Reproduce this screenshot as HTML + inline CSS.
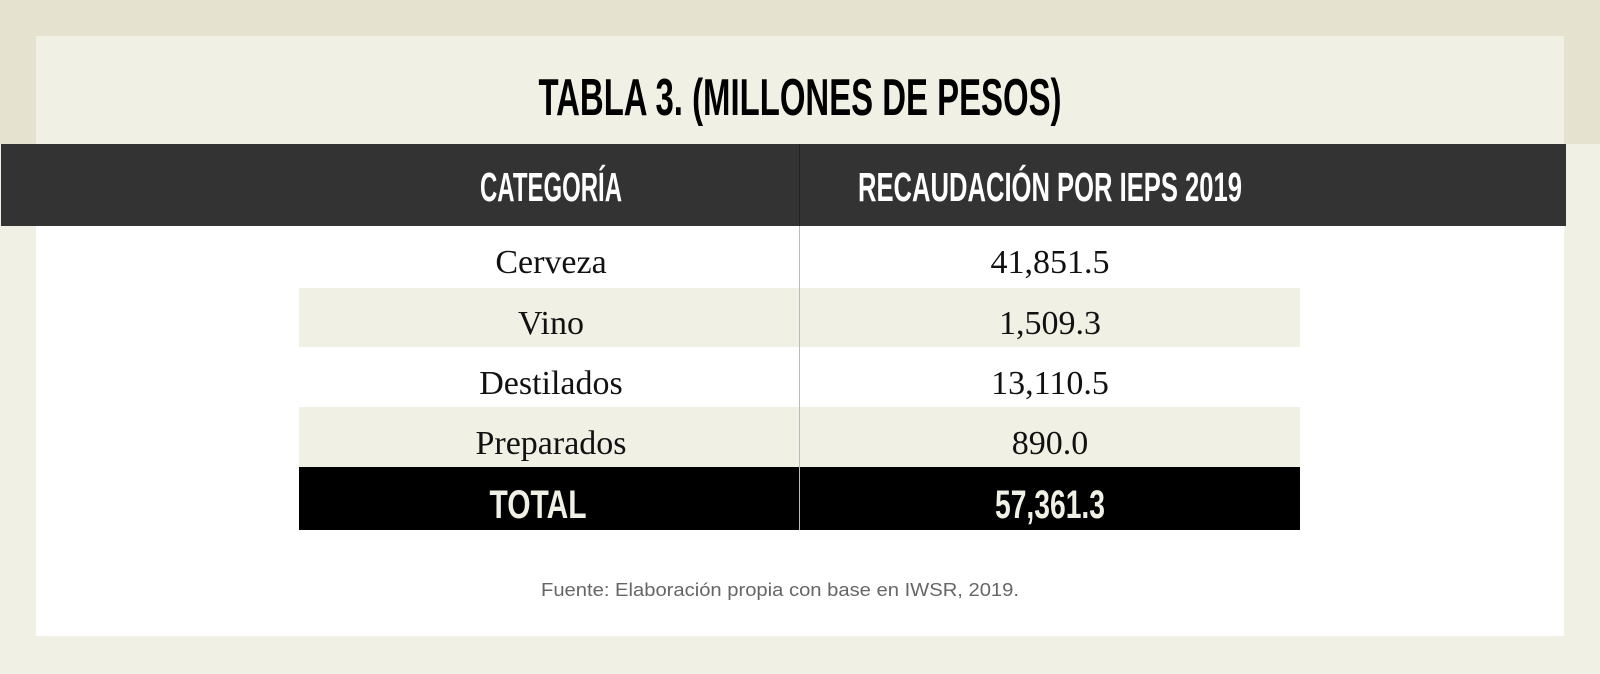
<!DOCTYPE html>
<html><head><meta charset="utf-8"><style>
html,body{margin:0;padding:0;width:1600px;height:674px;overflow:hidden;background:#f0f0e4}
svg{display:block}
.h{font-family:"Liberation Sans Narrow","Liberation Sans",sans-serif;font-weight:bold}
.s{font-family:"Liberation Serif",serif;font-size:34px;fill:#111}
</style></head><body>
<svg width="1600" height="674" viewBox="0 0 1600 674">
<rect x="0" y="0" width="1600" height="144" fill="#e5e3cf"/>
<rect x="36" y="36" width="1528" height="600" fill="#ffffff"/>
<rect x="36" y="36" width="1528" height="108" fill="#f0f0e4"/>
<text class="h" x="800" y="115" font-size="52" text-anchor="middle" textLength="523" lengthAdjust="spacingAndGlyphs" fill="#000">TABLA 3. (MILLONES DE PESOS)</text>
<rect x="1" y="144" width="1565" height="82" fill="#333333"/>
<text class="h" x="551" y="201" font-size="41" text-anchor="middle" textLength="142" lengthAdjust="spacingAndGlyphs" fill="#fff">CATEGORÍA</text>
<text class="h" x="1050" y="201" font-size="41" text-anchor="middle" textLength="384" lengthAdjust="spacingAndGlyphs" fill="#fff">RECAUDACIÓN POR IEPS 2019</text>
<rect x="299" y="288" width="1001" height="59" fill="#f0f0e4"/>
<rect x="299" y="407" width="1001" height="60" fill="#f0f0e4"/>
<rect x="299" y="467" width="1001" height="63" fill="#000"/>
<line x1="799.5" y1="144" x2="799.5" y2="226" stroke="#222"/>
<line x1="799.5" y1="226" x2="799.5" y2="530" stroke="#bbb"/>
<text class="s" x="551" y="273" text-anchor="middle">Cerveza</text>
<text class="s" x="1050" y="273" text-anchor="middle">41,851.5</text>
<text class="s" x="551" y="334" text-anchor="middle">Vino</text>
<text class="s" x="1050" y="334" text-anchor="middle">1,509.3</text>
<text class="s" x="551" y="394" text-anchor="middle">Destilados</text>
<text class="s" x="1050" y="394" text-anchor="middle">13,110.5</text>
<text class="s" x="551" y="454" text-anchor="middle">Preparados</text>
<text class="s" x="1050" y="454" text-anchor="middle">890.0</text>
<text class="h" x="538" y="518" font-size="40" text-anchor="middle" textLength="97" lengthAdjust="spacingAndGlyphs" fill="#f0f0e4">TOTAL</text>
<text class="h" x="1050" y="518" font-size="40" text-anchor="middle" textLength="110" lengthAdjust="spacingAndGlyphs" fill="#f0f0e4">57,361.3</text>
<text x="780" y="596" font-family="Liberation Sans, sans-serif" font-size="18.5" text-anchor="middle" textLength="478" lengthAdjust="spacingAndGlyphs" fill="#666">Fuente: Elaboración propia con base en IWSR, 2019.</text>
</svg>
</body></html>
